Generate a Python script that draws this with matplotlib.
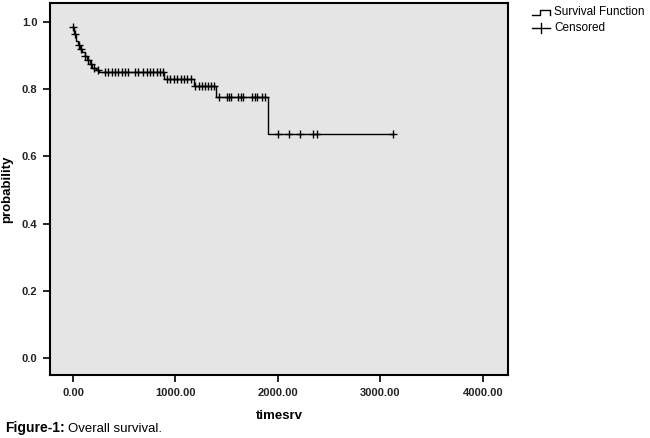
import numpy as np
import matplotlib
matplotlib.use("Agg")
import matplotlib.pyplot as plt
from matplotlib.lines import Line2D

# Kaplan-Meier estimate
event_times = [0, 10, 25, 45, 65, 90, 115, 140, 165, 190, 225, 255, 890, 1180, 1400, 1900]
survival = [0.986, 0.965, 0.945, 0.932, 0.921, 0.911, 0.900, 0.886, 0.876, 0.864,
            0.856, 0.851, 0.832, 0.809, 0.777, 0.666]

# censored observations (time)
censor_times = [0, 20, 55, 80, 120, 150, 175, 205, 240,
                312, 345, 378, 410, 442, 475, 507, 540, 605, 637, 686, 719, 751, 784, 816, 851, 882,
                920, 950, 985, 1015, 1050, 1085, 1115, 1150,
                1195, 1225, 1255, 1285, 1315, 1345, 1375,
                1424, 1505, 1525, 1544, 1613, 1636, 1655, 1743, 1776, 1798, 1841, 1870,
                1997, 2110, 2215, 2339, 2384, 3125]

x_ticks = [0, 1000, 2000, 3000, 4000]
y_ticks = [0.0, 0.2, 0.4, 0.6, 0.8, 1.0]

BG = "#e5e5e5"
FONT = "Liberation Sans"

fig = plt.figure(figsize=(6.5, 4.38), dpi=100)
ax = fig.add_axes([50 / 650, 1 - 375 / 438, 458 / 650, 372 / 438])
ax.set_facecolor(BG)

# curva em degraus até a última observação censurada
t_line = list(event_times) + [max(censor_times)]
s_line = list(survival) + [survival[-1]]
ax.step(t_line, s_line, where="post", color="black", lw=1.0)

et = np.array(event_times)
idx = np.searchsorted(et, censor_times, side="right") - 1
s_cens = np.array(survival)[idx]
ax.plot(censor_times, s_cens, ls="none", marker="+", ms=5.5, mew=1.0, color="black")

ax.set_xlim(-224, 4244)
ax.set_ylim(-0.051, 1.057)
ax.set_xticks(x_ticks)
ax.set_xticklabels([f"{v:.2f}" for v in x_ticks])
ax.set_yticks(y_ticks)
ax.set_yticklabels([f"{v:.1f}" for v in y_ticks])
for lab in ax.get_xticklabels() + ax.get_yticklabels():
    lab.set_fontfamily(FONT)
    lab.set_fontweight("bold")
    lab.set_fontsize(8)
    lab.set_color("#222222")
ax.tick_params(direction="out", length=5, width=1.2, pad=4)
for sp in ax.spines.values():
    sp.set_linewidth(1.5)

ax.set_xlabel("timesrv", family=FONT, fontweight="heavy", fontsize=9.5, labelpad=9)
ax.set_ylabel("probability", family=FONT, fontweight="heavy", fontsize=9.5, labelpad=6)

# legenda à direita (desenhada à mão, no estilo SPSS)
lx0, ly0 = 532 / 650, 1 - 12 / 438
w = 18 / 650
h = 5 / 438
fig.lines.append(Line2D([lx0, lx0 + w * 0.45, lx0 + w * 0.45, lx0 + w, lx0 + w],
                        [ly0 - h / 2, ly0 - h / 2, ly0 + h / 2, ly0 + h / 2, ly0 - h / 2],
                        transform=fig.transFigure, color="black", lw=1.0))
fig.text(lx0 + w + 4 / 650, ly0, "Survival Function", family=FONT, fontsize=8.5,
         va="center", ha="left")
ly1 = 1 - 28 / 438
fig.lines.append(Line2D([lx0, lx0 + w], [ly1, ly1], transform=fig.transFigure,
                        color="black", lw=1.0))
fig.lines.append(Line2D([lx0 + w / 2, lx0 + w / 2], [ly1 - h, ly1 + h],
                        transform=fig.transFigure, color="black", lw=1.0))
fig.text(lx0 + w + 4 / 650, ly1, "Censored", family=FONT, fontsize=8.5,
         va="center", ha="left")

# legenda da figura
cap = fig.text(5 / 650, 1 - 432 / 438, "Figure-1:", family=["Liberation Sans Narrow", FONT],
               fontweight="bold", fontsize=10, va="baseline", ha="left")
fig.canvas.draw()
bb = cap.get_window_extent().transformed(fig.transFigure.inverted())
fig.text(bb.x1 + 3 / 650, 1 - 432 / 438, "Overall survival.",
         family=["Liberation Sans Narrow", FONT], fontsize=9.5, va="baseline", ha="left")

fig.savefig("out.png", dpi=100)
